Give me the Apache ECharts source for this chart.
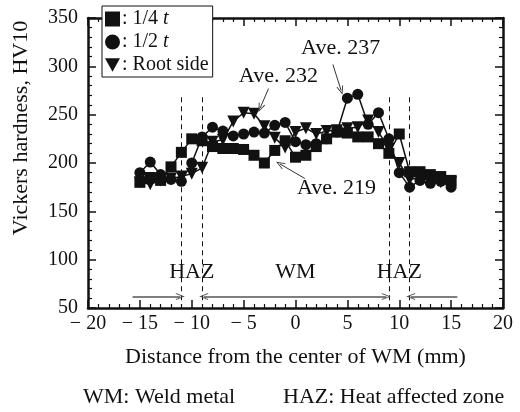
<!DOCTYPE html>
<html lang="en">
<head>
    <meta charset="UTF-8">
    <script src="https://cdn.jsdelivr.net/npm/echarts@6/dist/echarts.min.js"></script>
    <style>
        body { margin: 0; background: #fff; }
    </style>
</head>
<body>
<div id="chart" style="width: 520px;height: 412px"></div>
<script>
    // distance from center of WM (mm)
    var positions = [-15, -14, -13, -12, -11, -10, -9, -8, -7, -6, -5, -4, -3, -2, -1, 0,
        1, 2, 3, 4, 5, 6, 7, 8, 9, 10, 11, 12, 13, 14, 15];
    var quarterT = [180, 185, 182, 196, 211, 225, 223, 217, 215, 215, 214, 208, 200, 213, 223, 206,
        208, 217, 225, 232, 231, 227, 227, 220, 210, 230, 191, 191, 188, 186, 182];
    var halfT = [190, 201, 188, 183, 181, 200, 227, 237, 233, 228, 230, 232, 231, 239, 242, 222,
        219, 220, 225, 232, 267, 271, 240, 252, 225, 190, 175, 182, 179, 181, 175];
    var rootSide = [180, 178, 182, 184, 186, 189, 195, 222, 224, 243, 252, 251, 238, 226, 216, 232,
        236, 230, 233, 234, 236, 237, 244, 232, 215, 200, 183, 185, 184, 180, 180];
    var seriesNames = ['1/4 t', '1/2 t', 'Root side'];
    var xTicks = [-20, -15, -10, -5, 0, 5, 10, 15, 20];
    var yTicks = [50, 100, 150, 200, 250, 300, 350];
    var zoneBounds = [-11, -9, 9, 11];

    var font = 'Liberation Serif';
    var ink = '#111';
    var chevron = 'path://M0,10 L5,0 L10,10 L8.6,10 L5,2.6 L1.4,10 Z';
    var triDown = 'path://M0,0 L10,0 L5,9 Z';

    function pairs(vals) {
        return positions.map(function (x, i) { return [x, vals[i]]; });
    }

    function frameAxis(pos, isX) {
        return {
            type: 'value',
            position: pos,
            min: isX ? xTicks[0] : yTicks[0],
            max: isX ? xTicks[xTicks.length - 1] : yTicks[yTicks.length - 1],
            interval: isX ? 5 : 50,
            axisLine: {show: true, onZero: false, lineStyle: {color: ink, width: 2.5}},
            axisTick: {show: true, inside: true, length: 8, lineStyle: {color: ink, width: 1.5}},
            minorTick: {show: true, splitNumber: 5, length: 4, lineStyle: {color: ink, width: 1.2}},
            splitLine: {show: false},
            axisLabel: {show: false}
        };
    }

    var xBottom = frameAxis('bottom', true);
    xBottom.axisLabel = {
        show: true, margin: 6, color: ink, fontFamily: font, fontSize: 20,
        formatter: function (v) { return v < 0 ? '\u2212 ' + (-v) : String(v); }
    };
    xBottom.name = 'Distance from the center of WM (mm)';
    xBottom.nameLocation = 'middle';
    xBottom.nameGap = 38;
    xBottom.nameTextStyle = {color: ink, fontFamily: font, fontSize: 22};

    var yLeft = frameAxis('left', false);
    yLeft.axisLabel = {show: true, margin: 10, color: ink, fontFamily: font, fontSize: 20};

    var xTop = frameAxis('top', true);
    var yRight = frameAxis('right', false);

    var markerStyle = function (name, vals, symbol, size) {
        return {
            name: name,
            type: 'line',
            xAxisIndex: 0,
            yAxisIndex: 0,
            data: pairs(vals),
            symbol: symbol,
            symbolSize: size,
            showAllSymbol: true,
            lineStyle: {color: ink, width: 1.5},
            itemStyle: {color: ink},
            silent: true,
            animation: false
        };
    };

    // arrow / dashed line helpers (data coordinates)
    function dashed(x) {
        return [{coord: [x, 268], symbol: 'none'}, {coord: [x, 50], symbol: 'none'}];
    }
    function arrow(x0, y0, x1, y1, both, color, width) {
        return [
            {coord: [x0, y0], symbol: both ? chevron : 'none', lineStyle: {color: color, width: width, type: 'solid'}},
            {coord: [x1, y1], symbol: chevron}
        ];
    }

    var mlData = zoneBounds.map(dashed).concat([
        arrow(-15.7, 62, -11.1, 62, false, '#555', 1.5),
        arrow(-8.85, 62, 8.75, 62, true, '#555', 1.5),
        arrow(15.6, 62, 11.1, 62, false, '#555', 1.5),
        arrow(-2.6, 277, -3.4, 257, false, '#333', 1),
        arrow(3.6, 302, 4.4, 275, false, '#333', 1),
        arrow(0.9, 184, -1.5, 199, false, '#333', 1)
    ]);

    var notes = [
        {name: 'Ave. 232', value: [-1.65, 290]},
        {name: 'Ave. 237', value: [4.35, 319]},
        {name: 'Ave. 219', value: [3.95, 174]},
        {name: 'HAZ', value: [-10, 87]},
        {name: 'WM', value: [0, 87]},
        {name: 'HAZ', value: [10, 87]}
    ];

    var chart = echarts.init(document.getElementById('chart'));
    var option = {
        animation: false,
        backgroundColor: '#fff',
        grid: {left: 88, right: 17, top: 18, bottom: 104},
        legend: {
            orient: 'vertical',
            left: 102,
            top: 6,
            z: 10,
            padding: [3, 4, 2, 3],
            itemGap: 3,
            itemWidth: 15,
            itemHeight: 15,
            backgroundColor: '#fff',
            borderColor: ink,
            borderWidth: 1,
            borderRadius: 0,
            selectedMode: false,
            data: [
                {name: seriesNames[0], icon: 'rect'},
                {name: seriesNames[1], icon: 'circle'},
                {name: seriesNames[2], icon: triDown}
            ],
            formatter: function (name) {
                if (name === 'Root side') return ': Root side';
                return ': ' + name.replace(' t', ' ') + '{i|t}';
            },
            textStyle: {
                color: ink, fontFamily: font, fontSize: 20, padding: [0, 0, 0, -3],
                rich: {i: {fontStyle: 'italic', fontFamily: font, fontSize: 20, color: ink}}
            }
        },
        xAxis: [xBottom, xTop],
        yAxis: [yLeft, yRight],
        graphic: [
            {
                type: 'text', x: 21, y: 128, rotation: Math.PI / 2,
                style: {
                    text: 'Vickers hardness, HV10', fill: ink, font: '22px "Liberation Serif"',
                    textAlign: 'center', textVerticalAlign: 'middle'
                }
            },
            {
                type: 'text', left: 83, top: 386,
                style: {text: 'WM: Weld metal', fill: ink, font: '22px "Liberation Serif"'}
            },
            {
                type: 'text', left: 283, top: 386,
                style: {text: 'HAZ: Heat affected zone', fill: ink, font: '22px "Liberation Serif"'}
            }
        ],
        series: [
            markerStyle(seriesNames[2], rootSide, triDown, 12),
            markerStyle(seriesNames[1], halfT, 'circle', 11),
            markerStyle(seriesNames[0], quarterT, 'rect', 11),
            {
                name: 'notes',
                type: 'scatter',
                data: notes,
                symbolSize: 1,
                itemStyle: {color: 'rgba(255,255,255,0)'},
                silent: true,
                label: {
                    show: true, position: 'inside', formatter: '{b}',
                    color: ink, fontFamily: font, fontSize: 22,
                    textBorderWidth: 0, opacity: 1
                },
                markLine: {
                    silent: true,
                    animation: false,
                    symbolSize: [7, 9],
                    label: {show: false},
                    lineStyle: {color: ink, width: 1, type: [5, 4]},
                    data: mlData
                }
            }
        ]
    };
    chart.setOption(option);
</script>
</body>
</html>
